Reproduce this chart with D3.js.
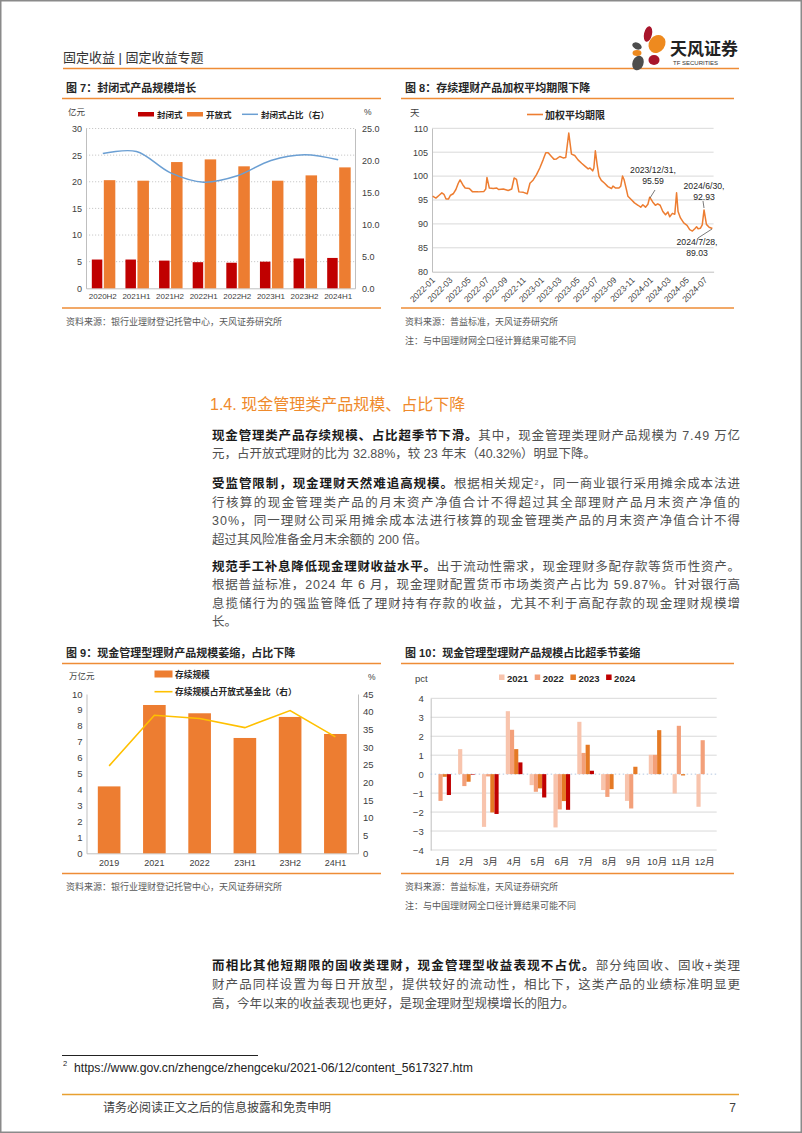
<!DOCTYPE html>
<html lang="zh-CN"><head><meta charset="utf-8">
<script src="https://cdn.jsdelivr.net/npm/d3@7"></script>
<style>
html,body{margin:0;padding:0;background:#fff;}
svg{display:block;}
text{font-family:"Liberation Sans","Noto Sans CJK SC",sans-serif;}
</style></head><body>
<svg id="page" width="802" height="1133"></svg>
<script>
// ---------------- DATA ----------------
// Figure 7
const c7Categories = ["2020H2","2021H1","2021H2","2022H1","2022H2","2023H1","2023H2","2024H1"];
const c7Closed = [5.4,5.4,5.2,4.9,4.8,5.0,5.6,5.7];
const c7Open = [20.3,20.2,23.7,24.2,22.9,20.2,21.2,22.7];
const c7Ratio = [21.1,21.4,18.1,16.6,17.6,20.0,20.9,20.1];
const c7LeftTicks = [0,5,10,15,20,25,30];
const c7RightTicks = [0,5,10,15,20,25];
const c7Legend = ["封闭式","开放式","封闭式占比（右）"];

// Figure 8
const c8Dates = ["2022-01-03","2022-01-14","2022-01-25","2022-02-03","2022-02-10","2022-02-17","2022-02-25","2022-03-04","2022-03-13","2022-03-22","2022-03-30","2022-04-05","2022-04-14","2022-04-22","2022-05-06","2022-05-17","2022-06-05","2022-06-24","2022-06-30","2022-07-04","2022-07-12","2022-07-25","2022-08-06","2022-08-12","2022-08-28","2022-09-13","2022-09-25","2022-10-03","2022-10-11","2022-10-19","2022-11-03","2022-11-16","2022-11-25","2022-12-06","2022-12-17","2022-12-28","2023-01-08","2023-01-17","2023-01-25","2023-02-05","2023-02-14","2023-02-22","2023-03-05","2023-03-16","2023-03-25","2023-04-04","2023-04-13","2023-04-24","2023-05-05","2023-05-17","2023-05-28","2023-06-08","2023-06-14","2023-06-23","2023-06-27","2023-07-02","2023-07-08","2023-07-14","2023-07-22","2023-08-02","2023-08-13","2023-08-25","2023-08-30","2023-09-08","2023-09-19","2023-09-25","2023-10-01","2023-10-06","2023-10-14","2023-10-19","2023-10-30","2023-11-10","2023-11-22","2023-12-01","2023-12-08","2023-12-17","2023-12-25","2023-12-31","2024-01-10","2024-01-19","2024-01-27","2024-02-04","2024-02-13","2024-02-22","2024-03-01","2024-03-07","2024-03-16","2024-03-24","2024-03-30","2024-04-04","2024-04-12","2024-04-23","2024-05-04","2024-05-13","2024-05-22","2024-05-30","2024-06-05","2024-06-10","2024-06-18","2024-06-24","2024-06-30","2024-07-08","2024-07-17","2024-07-28"];
const c8Values = [95.8,95.4,96.0,96.5,96.2,95.2,95.2,96.0,96.3,97.2,98.5,99.2,98.2,97.5,97.4,96.7,96.7,96.8,97.3,99.7,97.5,97.4,97.5,97.2,97.3,97.0,97.3,99.6,99.3,96.7,96.6,96.3,98.5,99.2,100.3,101.7,103.4,104.9,104.9,104.1,103.5,103.6,104.1,103.8,103.9,109.0,104.6,104.3,103.4,102.7,102.1,101.5,101.7,101.1,101.7,105.3,102.4,100.0,99.1,98.5,97.8,97.4,97.9,97.5,97.5,97.9,100.0,99.3,97.2,95.8,95.1,94.4,93.9,93.5,94.0,93.5,94.1,95.59,94.6,93.9,94.2,93.9,92.6,91.9,92.5,91.5,92.2,92.0,96.5,92.6,91.25,90.2,89.7,88.8,88.5,89.0,89.4,89.0,89.1,89.8,92.93,89.9,89.3,89.03];
const c8TickLabels = ["2022-01","2022-03","2022-05","2022-07","2022-09","2022-11","2023-01","2023-03","2023-05","2023-07","2023-09","2023-11","2024-01","2024-03","2024-05","2024-07"];
const c8YTicks = [80,85,90,95,100,105,110];
const c8Notes = [["2023-12-31","2023/12/31,","95.59"],["2024-06-30","2024/6/30,","92.93"],["2024-07-28","2024/7/28,","89.03"]];

// Figure 9
const c9Categories = ["2019","2021","2022","23H1","23H2","24H1"];
const c9Scale = [4.2,9.31,8.79,7.24,8.56,7.49];
const c9Share = [24.7,39.0,38.1,35.5,40.32,32.88];
const c9LeftTicks = [0,1,2,3,4,5,6,7,8,9,10];
const c9RightTicks = [0,5,10,15,20,25,30,35,40,45];

// Figure 10
const c10Months = ["1月","2月","3月","4月","5月","6月","7月","8月","9月","10月","11月","12月"];
const c10Years = ["2021","2022","2023","2024"];
const c10v2021 = [0,1.32,-2.78,3.32,-0.58,-2.81,2.76,-0.84,-1.41,1.02,-1.02,-1.72];
const c10v2022 = [-1.41,-0.63,-0.12,2.34,-0.93,-1.86,1.12,-1.2,-1.81,1.02,2.55,1.79];
const c10v2023 = [-0.14,-0.4,-2.02,1.32,-0.75,-1.42,1.55,-0.79,0.39,2.32,-0.07,0];
const c10v2024 = [-1.1,-0.03,-2.1,0.62,-1.23,-1.88,0.18,null,null,null,null,null];
const c10Ticks = [-4,-3,-2,-1,0,1,2,3,4];

// ---------------- PAGE ----------------
const svg = d3.select("#page");
const LINE_OR = "#ee8c36";
const TXT = "#404040";

svg.append("rect").attr("x",0.75).attr("y",0.75).attr("width",800.5).attr("height",1131.5)
  .attr("fill","#fff").attr("stroke","#8a8a8a").attr("stroke-width",1.5);

// header
svg.append("text").attr("x",63).attr("y",62).attr("font-size",13).attr("fill","#333").text("固定收益 | 固定收益专题");
svg.append("line").attr("x1",63).attr("x2",739).attr("y1",68.5).attr("y2",68.5).attr("stroke",LINE_OR).attr("stroke-width",1.6);
// logo
const logo = svg.append("g");
const petals = [
  [648,34,4,8,12,"#a8152b"],[637,46,5,3.3,25,"#4d4d4d"],[657,44,8,9.5,35,"#ee8a1f"],
  [637,53,4.5,3,0,"#ee8a1f"],[638,63,5.5,7.5,20,"#4d4d4d"],[654,60,5.5,5,0,"#a8152b"]];
petals.forEach(p=>logo.append("ellipse").attr("cx",p[0]).attr("cy",p[1]).attr("rx",p[2]).attr("ry",p[3])
  .attr("transform",`rotate(${p[4]},${p[0]},${p[1]})`).attr("fill",p[5]));
logo.append("text").attr("x",670).attr("y",55).attr("font-size",17).attr("font-weight",700).attr("fill","#222").text("天风证券");
logo.append("text").attr("x",673).attr("y",65).attr("font-size",6).attr("fill","#333").text("TF SECURITIES");

function chartFrame(x0,x1,title,titleY,ulY,blY,src,srcY,note,noteY){
  svg.append("text").attr("x",x0+4).attr("y",titleY).attr("font-size",11).attr("font-weight",700).attr("fill","#262626").text(title);
  svg.append("line").attr("x1",x0).attr("x2",x1).attr("y1",ulY).attr("y2",ulY).attr("stroke",LINE_OR).attr("stroke-width",1.5);
  svg.append("line").attr("x1",x0).attr("x2",x1).attr("y1",blY).attr("y2",blY).attr("stroke",LINE_OR).attr("stroke-width",1.5);
  svg.append("text").attr("x",x0+4).attr("y",srcY).attr("font-size",9).attr("fill","#595959").text(src);
  if(note) svg.append("text").attr("x",x0+4).attr("y",noteY).attr("font-size",9).attr("fill","#595959").text(note);
}
function styleAxis(g,fs){
  g.select(".domain").attr("stroke","#bfbfbf");
  g.selectAll(".tick line").remove();
  g.selectAll("text").attr("font-size",fs).attr("fill",TXT).attr("font-family",null);
}

// ---------- Figure 7 ----------
(function(){
  chartFrame(62,381,"图 7：封闭式产品规模增长",92,98.5,308,"资料来源：银行业理财登记托管中心，天风证券研究所",325);
  const x0=86,x1=355,yT=128.5,yB=288.3;
  const x = d3.scaleBand().domain(c7Categories).range([x0,x1]);
  const yL = d3.scaleLinear().domain([0,30]).range([yB,yT]);
  const yR = d3.scaleLinear().domain([0,25]).range([yB,yT]);
  const g = svg.append("g");
  g.selectAll("line.grid").data(c7LeftTicks.filter(d=>d>0)).join("line").attr("class","grid")
    .attr("x1",x0).attr("x2",x1).attr("y1",d=>yL(d)).attr("y2",d=>yL(d))
    .attr("stroke","#c9c9c9").attr("stroke-dasharray","1.2,1.8");
  const ax = g.append("g").attr("transform",`translate(${x0},0)`).call(d3.axisLeft(yL).tickValues(c7LeftTicks).tickSize(0).tickSizeOuter(0).tickPadding(4));
  styleAxis(ax,9);
  const axr = g.append("g").attr("transform",`translate(${x1},0)`).call(d3.axisRight(yR).tickValues(c7RightTicks).tickFormat(d3.format(".1f")).tickSize(0).tickSizeOuter(0).tickPadding(7));
  styleAxis(axr,9);
  const axb = g.append("g").attr("transform",`translate(0,${yB})`).call(d3.axisBottom(x).tickSize(0).tickSizeOuter(0).tickPadding(5));
  styleAxis(axb,8);
  const bw = x.bandwidth();
  g.selectAll("rect.cl").data(c7Closed).join("rect").attr("class","cl")
    .attr("x",(d,i)=>x(c7Categories[i])+bw/2-11).attr("width",10.5)
    .attr("y",d=>yL(d)).attr("height",d=>yB-yL(d)).attr("fill","#c00000");
  g.selectAll("rect.op").data(c7Open).join("rect").attr("class","op")
    .attr("x",(d,i)=>x(c7Categories[i])+bw/2+1).attr("width",11.5)
    .attr("y",d=>yL(d)).attr("height",d=>yB-yL(d)).attr("fill","#ed7d31");
  const line = d3.line().x((d,i)=>x(c7Categories[i])+bw/2).y(d=>yR(d)).curve(d3.curveCatmullRom.alpha(0.5));
  g.append("path").datum(c7Ratio).attr("d",line).attr("fill","none").attr("stroke","#6b9fd3").attr("stroke-width",1.5);
  // units & legend
  g.append("text").attr("x",68).attr("y",115).attr("font-size",8.5).attr("fill",TXT).text("亿元");
  g.append("text").attr("x",364).attr("y",115).attr("font-size",8.5).attr("fill",TXT).text("%");
  const lg = [[138,"#c00000","rect",c7Legend[0]],[187,"#ed7d31","rect",c7Legend[1]],[242,"#6b9fd3","line",c7Legend[2]]];
  lg.forEach(l=>{
    if(l[2]==="rect") g.append("rect").attr("x",l[0]).attr("y",112).attr("width",16).attr("height",4.5).attr("fill",l[1]);
    else g.append("line").attr("x1",l[0]).attr("x2",l[0]+16).attr("y1",114.3).attr("y2",114.3).attr("stroke",l[1]).attr("stroke-width",1.5);
    g.append("text").attr("x",l[0]+19).attr("y",117.5).attr("font-size",8.5).attr("font-weight",700).attr("fill","#262626").text(l[3]);
  });
})();

// ---------- Figure 8 ----------
(function(){
  chartFrame(401,734,"图 8：存续理财产品加权平均期限下降",92,98.5,308,"资料来源：普益标准，天风证券研究所",325,"注：与中国理财网全口径计算结果可能不同",344);
  const x0=432,x1=713.6,yT=128.3,yB=271.7;
  const pd = d3.timeParse("%Y-%m-%d");
  const pm = d3.timeParse("%Y-%m");
  const x = d3.scaleTime().domain([pd("2022-01-01"),pd("2024-08-01")]).range([x0,x1]);
  const y = d3.scaleLinear().domain([80,110]).range([yB,yT]);
  const g = svg.append("g");
  g.selectAll("line.grid").data(c8YTicks.filter(d=>d>80)).join("line")
    .attr("x1",x0).attr("x2",x1).attr("y1",d=>y(d)).attr("y2",d=>y(d)).attr("stroke","#d9d9d9");
  const ax = g.append("g").attr("transform",`translate(${x0},0)`).call(d3.axisLeft(y).tickValues(c8YTicks).tickSize(0).tickSizeOuter(0).tickPadding(4));
  styleAxis(ax,9);
  const axb = g.append("g").attr("transform",`translate(0,${yB})`).call(d3.axisBottom(x).tickValues(c8TickLabels.map(pm)).tickFormat(d3.timeFormat("%Y-%m")).tickSize(0).tickSizeOuter(0));
  styleAxis(axb,8.5);
  axb.selectAll(".tick text").attr("text-anchor","end").attr("dy",0).attr("y",0)
    .attr("transform","translate(3,9) rotate(-45)");
  const line = d3.line().x((d,i)=>x(pd(c8Dates[i]))).y(d=>y(d));
  g.append("path").datum(c8Values).attr("d",line).attr("fill","none").attr("stroke","#ed7d31").attr("stroke-width",1.5).attr("stroke-linejoin","round");
  g.append("text").attr("x",410).attr("y",116).attr("font-size",9.5).attr("fill",TXT).text("天");
  g.append("line").attr("x1",527).attr("x2",543).attr("y1",114.5).attr("y2",114.5).attr("stroke","#ed7d31").attr("stroke-width",1.6);
  g.append("text").attr("x",545).attr("y",118.5).attr("font-size",10).attr("font-weight",700).attr("fill","#262626").text("加权平均期限");
  // annotations
  const ann = [[c8Notes[0],653,173,[655,190],[-5,8]],[c8Notes[1],704,189,[703,201],[1,7]],[c8Notes[2],697,245,[698,238],[14,-9]]];
  ann.forEach(a=>{
    const n=a[0];
    g.append("text").attr("x",a[1]).attr("y",a[2]).attr("text-anchor","middle").attr("font-size",8.7).attr("fill","#262626").text(n[1]);
    g.append("text").attr("x",a[1]).attr("y",a[2]+10.5).attr("text-anchor","middle").attr("font-size",8.7).attr("fill","#262626").text(n[2]);
    g.append("line").attr("x1",a[3][0]).attr("y1",a[3][1]).attr("x2",a[3][0]+a[4][0]).attr("y2",a[3][1]+a[4][1]).attr("stroke","#595959").attr("stroke-width",0.8);
  });
})();

// ---------- Figure 9 ----------
(function(){
  chartFrame(62,381,"图 9：现金管理型理财产品规模萎缩，占比下降",657,663.5,873.5,"资料来源：银行业理财登记托管中心，天风证券研究所",890);
  const x0=86.5,x1=358,yT=694,yB=853.3;
  const x = d3.scaleBand().domain(c9Categories).range([x0,x1]).paddingInner(0.5).paddingOuter(0.25);
  const yL = d3.scaleLinear().domain([0,10]).range([yB,yT]);
  const yR = d3.scaleLinear().domain([0,45]).range([yB,yT]);
  const g = svg.append("g");
  const ax = g.append("g").attr("transform",`translate(${x0},0)`).call(d3.axisLeft(yL).tickValues(c9LeftTicks).tickSize(0).tickSizeOuter(0).tickPadding(4));
  styleAxis(ax,9.5);
  const axr = g.append("g").attr("transform",`translate(${x1},0)`).call(d3.axisRight(yR).tickValues(c9RightTicks).tickSize(0).tickSizeOuter(0).tickPadding(5));
  styleAxis(axr,9.5);
  const axb = g.append("g").attr("transform",`translate(0,${yB})`).call(d3.axisBottom(x).tickSize(0).tickSizeOuter(0).tickPadding(6));
  styleAxis(axb,9);
  g.selectAll("rect.b").data(c9Scale).join("rect").attr("class","b")
    .attr("x",(d,i)=>x(c9Categories[i])).attr("width",x.bandwidth())
    .attr("y",d=>yL(d)).attr("height",d=>yB-yL(d)).attr("fill","#ed7d31");
  const line = d3.line().x((d,i)=>x(c9Categories[i])+x.bandwidth()/2).y(d=>yR(d));
  g.append("path").datum(c9Share).attr("d",line).attr("fill","none").attr("stroke","#ffc000").attr("stroke-width",1.6);
  g.append("text").attr("x",69).attr("y",679).attr("font-size",8.5).attr("fill",TXT).text("万亿元");
  g.append("text").attr("x",368).attr("y",680).attr("font-size",8.5).attr("fill",TXT).text("%");
  g.append("rect").attr("x",154.5).attr("y",670.5).attr("width",18).attr("height",7).attr("fill","#ed7d31");
  g.append("text").attr("x",175).attr("y",677.8).attr("font-size",8.7).attr("font-weight",700).attr("fill","#262626").text("存续规模");
  g.append("line").attr("x1",154.5).attr("x2",172.5).attr("y1",691.7).attr("y2",691.7).attr("stroke","#ffc000").attr("stroke-width",1.6);
  g.append("text").attr("x",175).attr("y",695).attr("font-size",8.7).attr("font-weight",700).attr("fill","#262626").text("存续规模占开放式基金比（右）");
})();

// ---------- Figure 10 ----------
(function(){
  chartFrame(401,734,"图 10：现金管理型理财产品规模占比超季节萎缩",657,663.5,873.5,"资料来源：普益标准，天风证券研究所",890,"注：与中国理财网全口径计算结果可能不同",909);
  const x0=430.7,x1=716.7,yT=698.3,yB=850;
  const x = d3.scaleBand().domain(c10Months).range([x0,x1]);
  const xs = d3.scaleBand().domain(c10Years).range([0,x.bandwidth()*0.7]);
  const y = d3.scaleLinear().domain([-4,4]).range([yB,yT]);
  const colors = {"2021":"#f8c4ad","2022":"#f3a07a","2023":"#e57a25","2024":"#c00000"};
  const series = {"2021":c10v2021,"2022":c10v2022,"2023":c10v2023,"2024":c10v2024};
  const g = svg.append("g");
  g.selectAll("line.grid").data(c10Ticks.filter(d=>d!==0)).join("line")
    .attr("x1",x0).attr("x2",x1).attr("y1",d=>y(d)).attr("y2",d=>y(d)).attr("stroke","#d9d9d9");
  const ax = g.append("g").attr("transform",`translate(${x0},0)`).call(d3.axisLeft(y).tickValues(c10Ticks).tickSize(0).tickSizeOuter(0).tickPadding(7));
  styleAxis(ax,9.5);
  g.append("line").attr("x1",x0).attr("x2",x1).attr("y1",y(0)).attr("y2",y(0)).attr("stroke","#b4c7e0").attr("stroke-dasharray","1.5,2.5");
  const axb = g.append("g").attr("transform",`translate(0,${yB})`).call(d3.axisBottom(x).tickSize(0).tickSizeOuter(0).tickPadding(8));
  axb.select(".domain").remove();
  styleAxis(axb,9.5);
  c10Years.forEach(yr=>{
    g.selectAll("rect.s"+yr).data(series[yr]).join("rect").attr("class","s"+yr)
      .filter(d=>d!==null)
      .attr("x",(d,i)=>x(c10Months[i])+x.bandwidth()*0.15+xs(yr)).attr("width",xs.bandwidth())
      .attr("y",d=>y(Math.max(0,d))).attr("height",d=>Math.abs(y(d)-y(0))).attr("fill",colors[yr]);
  });
  g.append("text").attr("x",415).attr("y",682).attr("font-size",9.5).attr("fill",TXT).text("pct");
  c10Years.forEach((yr,i)=>{
    const lx = 499+i*35.7;
    g.append("rect").attr("x",lx).attr("y",674.5).attr("width",5.5).attr("height",5.5).attr("fill",colors[yr]);
    g.append("text").attr("x",lx+8).attr("y",681.5).attr("font-size",9.5).attr("font-weight",700).attr("fill","#262626").text(yr);
  });
})();

// ---------------- BODY TEXT ----------------
svg.append("text").attr("x",210).attr("y",409.5).attr("font-size",16).attr("fill","#ef8a2c").text("1.4. 现金管理类产品规模、占比下降");

const paragraphs = [
  {y:439.5, lh:18.8, lines:[
    {j:true, s:[["现金管理类产品存续规模、占比超季节下滑。",1],["其中，现金管理类理财产品规模为 7.49 万亿",0]]},
    {j:false,s:[["元，占开放式理财的比为 32.88%，较 23 年末（40.32%）明显下降。",0]]}]},
  {y:488, lh:18.5, lines:[
    {j:true, s:[["受监管限制，现金理财天然难追高规模。",1],["根据相关规定",0],["2",2],["，同一商业银行采用摊余成本法进",0]]},
    {j:true, s:[["行核算的现金管理类产品的月末资产净值合计不得超过其全部理财产品月末资产净值的",0]]},
    {j:true, s:[["30%，同一理财公司采用摊余成本法进行核算的现金管理类产品的月末资产净值合计不得",0]]},
    {j:false,s:[["超过其风险准备金月末余额的 200 倍。",0]]}]},
  {y:570.5, lh:18.5, lines:[
    {j:true, s:[["规范手工补息降低现金理财收益水平。",1],["出于流动性需求，现金理财多配存款等货币性资产。",0]]},
    {j:true, s:[["根据普益标准，2024 年 6 月，现金理财配置货币市场类资产占比为 59.87%。针对银行高",0]]},
    {j:true, s:[["息揽储行为的强监管降低了理财持有存款的收益，尤其不利于高配存款的现金理财规模增",0]]},
    {j:false,s:[["长。",0]]}]},
  {y:969.5, lh:19, lines:[
    {j:true, s:[["而相比其他短期限的固收类理财，现金管理型收益表现不占优。",1],["部分纯固收、固收+类理",0]]},
    {j:true, s:[["财产品同样设置为每日开放型，提供较好的流动性，相比下，这类产品的业绩标准明显更",0]]},
    {j:false,s:[["高，今年以来的收益表现也更好，是现金理财型规模增长的阻力。",0]]}]}
];
paragraphs.forEach(p=>{
  p.lines.forEach((ln,k)=>{
    const t = svg.append("text").attr("x",212).attr("y",p.y+k*p.lh).attr("font-size",12.5);
    if(ln.j) t.attr("textLength",528).attr("lengthAdjust","spacing");
    ln.s.forEach(s=>{
      const ts = t.append("tspan").text(s[0]);
      if(s[1]===1) ts.attr("font-weight",700).attr("fill","#1a1a1a");
      else if(s[1]===2) ts.attr("font-size",7).attr("baseline-shift","super").attr("fill","#555");
      else ts.attr("fill","#505050");
    });
  });
});

// footnote & footer
svg.append("line").attr("x1",62).attr("x2",258).attr("y1",1055.5).attr("y2",1055.5).attr("stroke","#222").attr("stroke-width",1);
svg.append("text").attr("x",63).attr("y",1066).attr("font-size",7.5).attr("fill","#222").text("2");
svg.append("text").attr("x",74).attr("y",1072).attr("font-size",12.2).attr("fill","#222").text("https://www.gov.cn/zhengce/zhengceku/2021-06/12/content_5617327.htm");
svg.append("line").attr("x1",62).attr("x2",739).attr("y1",1094.5).attr("y2",1094.5).attr("stroke","#e8a030").attr("stroke-width",1.6);
svg.append("text").attr("x",103).attr("y",1112).attr("font-size",12).attr("fill","#404040").text("请务必阅读正文之后的信息披露和免责申明");
svg.append("text").attr("x",736).attr("y",1112).attr("text-anchor","end").attr("font-size",12).attr("fill","#404040").text("7");
</script>
</body></html>
